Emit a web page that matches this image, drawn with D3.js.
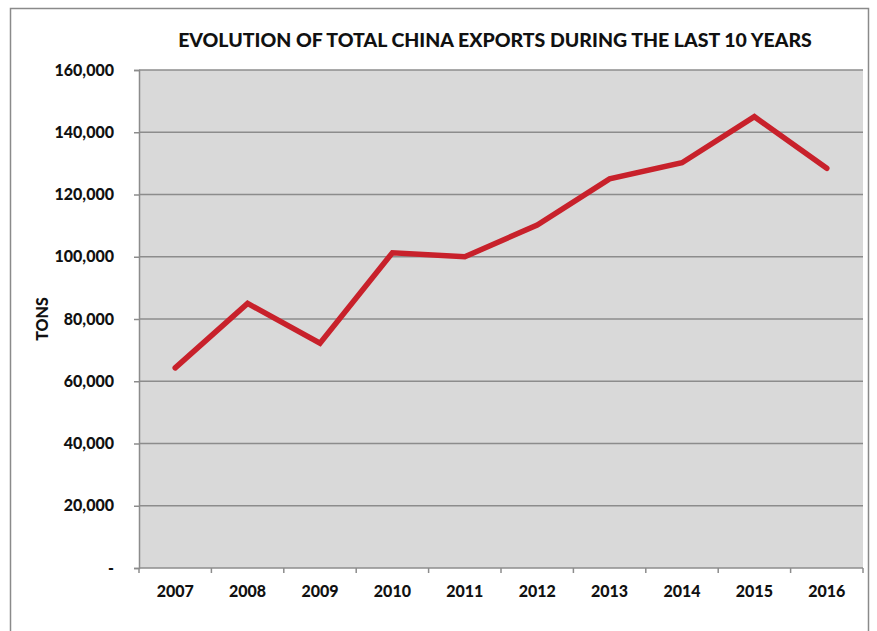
<!DOCTYPE html>
<html>
<head>
<meta charset="utf-8">
<script src="https://cdn.jsdelivr.net/npm/d3@7"></script>
<style>
  html, body { margin: 0; padding: 0; background: #fff; }
  text { font-family: Lato, "Open Sans", sans-serif; font-weight: 900; fill: #111; }
</style>
</head>
<body>
<svg id="chart" width="877" height="631"></svg>
<script>
// Annual totals, tons
const years = ["2007", "2008", "2009", "2010", "2011", "2012", "2013", "2014", "2015", "2016"];
const exportsTons = [64300, 85000, 72200, 101300, 100000, 110200, 125000, 130200, 145000, 128400];
const yTicks = [0, 20000, 40000, 60000, 80000, 100000, 120000, 140000, 160000];

const svg = d3.select("#chart");
const plot = { left: 139, right: 863, top: 70, bottom: 568 };
const labelFont = "Lato, 'Open Sans', sans-serif";

// outer frame
svg.append("rect")
  .attr("x", 10.5).attr("y", 8.5)
  .attr("width", 858).attr("height", 640)
  .attr("fill", "#fff").attr("stroke", "#8a8a8a").attr("stroke-width", 1.5);

const x = d3.scaleBand().domain(years).range([plot.left, plot.right]).padding(0);
const y = d3.scaleLinear().domain([0, 160000]).range([plot.bottom, plot.top]);

// plot background
svg.append("rect")
  .attr("x", plot.left).attr("y", plot.top)
  .attr("width", plot.right - plot.left).attr("height", plot.bottom - plot.top)
  .attr("fill", "#d9d9d9");

// horizontal gridlines
svg.append("g").selectAll("line").data(yTicks.filter(d => d > 0)).join("line")
  .attr("x1", plot.left).attr("x2", plot.right)
  .attr("y1", d => y(d)).attr("y2", d => y(d))
  .attr("stroke", "#8c8c8c").attr("stroke-width", 1.5);

// y axis
const yAxis = svg.append("g")
  .attr("transform", `translate(${plot.left},0)`)
  .call(d3.axisLeft(y).tickValues(yTicks).tickSize(5).tickPadding(20)
    .tickFormat(d => d === 0 ? "-" : d3.format(",")(d)));
yAxis.select(".domain").attr("stroke", "#8c8c8c").attr("stroke-width", 1.5);
yAxis.selectAll(".tick line").attr("stroke", "#8c8c8c").attr("stroke-width", 1.5);
yAxis.selectAll(".tick text")
  .style("font-size", "16px").style("font-family", labelFont).style("font-weight", "900")
  .attr("fill", "#111");

// x axis with ticks at category boundaries
const xAxisG = svg.append("g").attr("transform", `translate(0,${plot.bottom})`);
xAxisG.append("line")
  .attr("x1", plot.left).attr("x2", plot.right)
  .attr("stroke", "#8c8c8c").attr("stroke-width", 1.5);
const bounds = years.map(d => x(d)).concat([x(years[years.length - 1]) + x.bandwidth()]);
xAxisG.selectAll("line.tk").data(bounds).join("line")
  .attr("class", "tk")
  .attr("x1", d => d).attr("x2", d => d)
  .attr("y1", 0).attr("y2", 5)
  .attr("stroke", "#8c8c8c").attr("stroke-width", 1.5);
xAxisG.selectAll("text").data(years).join("text")
  .attr("x", d => x(d) + x.bandwidth() / 2)
  .attr("y", 29)
  .attr("text-anchor", "middle")
  .style("font-size", "16px")
  .text(d => d);

// export line
const line = d3.line()
  .x((d, i) => x(years[i]) + x.bandwidth() / 2)
  .y(d => y(d));
svg.append("path")
  .datum(exportsTons)
  .attr("d", line)
  .attr("fill", "none")
  .attr("stroke", "#c8212b")
  .attr("stroke-width", 5.5)
  .attr("stroke-linejoin", "miter")
  .attr("stroke-linecap", "round");

// title
svg.append("text")
  .attr("x", 495).attr("y", 47)
  .attr("text-anchor", "middle")
  .style("font-size", "19.5px")
  .text("EVOLUTION OF TOTAL CHINA EXPORTS DURING THE LAST 10 YEARS");

// y axis title
svg.append("text")
  .attr("transform", `translate(48,${(plot.top + plot.bottom) / 2}) rotate(-90)`)
  .attr("text-anchor", "middle")
  .style("font-size", "16px")
  .text("TONS");
</script>
</body>
</html>
